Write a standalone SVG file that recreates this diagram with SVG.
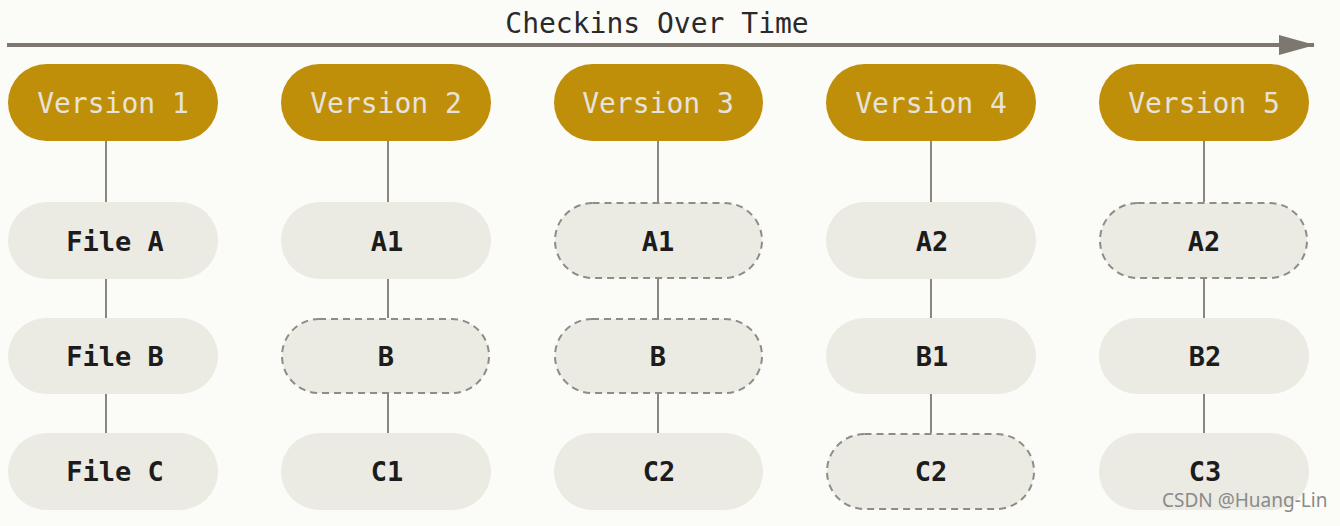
<svg xmlns="http://www.w3.org/2000/svg" width="1340" height="526" viewBox="0 0 1340 526">
<style>
.bg{fill:#fbfbf8}
.ver rect{fill:#c08f0a}
.ver text{fill:#e6e3da;font-family:"DejaVu Sans Mono",monospace;font-size:28px;text-anchor:middle;dominant-baseline:central}
.file rect{fill:#ebeae3}
.file.dash rect{stroke:#8f8c88;stroke-width:2;stroke-dasharray:7,5}
.file text{fill:#1c1c1c;font-family:"DejaVu Sans Mono",monospace;font-weight:bold;font-size:27px;text-anchor:middle;dominant-baseline:central}
.conn line{stroke:#8a8580;stroke-width:2}
.title{fill:#2a2a2a;font-family:"DejaVu Sans Mono",monospace;font-size:28px;text-anchor:middle}
.wm{fill:#8a8a8a;font-family:"Noto Sans",sans-serif;font-size:19px}
</style>
<defs>
<marker id="ah" markerWidth="36" markerHeight="20" refX="35" refY="10" orient="auto" markerUnits="userSpaceOnUse">
<path d="M0,0 L36,10 L0,20 Z" fill="#7d7770"/>
</marker>
</defs>
<rect class="bg" x="0" y="0" width="1340" height="526"/>
<text class="title" x="657" y="33">Checkins Over Time</text>
<g id="timeline" class="conn">
<line x1="7" y1="45" x2="1314" y2="45" style="stroke:#7d7770;stroke-width:4" marker-end="url(#ah)"/>
</g>
<g id="connectors" class="conn">
<line x1="106" y1="141" x2="106" y2="202"/><line x1="106" y1="279" x2="106" y2="318"/><line x1="106" y1="394" x2="106" y2="433"/>
<line x1="388" y1="141" x2="388" y2="202"/><line x1="388" y1="279" x2="388" y2="318"/><line x1="388" y1="394" x2="388" y2="433"/>
<line x1="658" y1="141" x2="658" y2="202"/><line x1="658" y1="279" x2="658" y2="318"/><line x1="658" y1="394" x2="658" y2="433"/>
<line x1="931" y1="141" x2="931" y2="202"/><line x1="931" y1="279" x2="931" y2="318"/><line x1="931" y1="394" x2="931" y2="433"/>
<line x1="1204" y1="141" x2="1204" y2="202"/><line x1="1204" y1="279" x2="1204" y2="318"/><line x1="1204" y1="394" x2="1204" y2="433"/>
</g>
<g id="v1" class="ver"><rect x="8" y="64" width="210" height="77" rx="38.5"/><text x="113" y="103">Version 1</text></g>
<g id="v2" class="ver"><rect x="281" y="64" width="210" height="77" rx="38.5"/><text x="386" y="103">Version 2</text></g>
<g id="v3" class="ver"><rect x="554" y="64" width="209" height="77" rx="38.5"/><text x="658" y="103">Version 3</text></g>
<g id="v4" class="ver"><rect x="826" y="64" width="210" height="77" rx="38.5"/><text x="931" y="103">Version 4</text></g>
<g id="v5" class="ver"><rect x="1099" y="64" width="210" height="77" rx="38.5"/><text x="1204" y="103">Version 5</text></g>

<g id="v1a" class="file"><rect x="8" y="202" width="210" height="77" rx="38.5"/><text x="115" y="241">File A</text></g>
<g id="v1b" class="file"><rect x="8" y="318" width="210" height="76" rx="38"/><text x="115" y="356">File B</text></g>
<g id="v1c" class="file"><rect x="8" y="433" width="210" height="77" rx="38.5"/><text x="115" y="471">File C</text></g>

<g id="v2a" class="file"><rect x="281" y="202" width="210" height="77" rx="38.5"/><text x="387" y="241">A1</text></g>
<g id="v2b" class="file dash"><rect x="282" y="319" width="207" height="74" rx="37"/><text x="386" y="356">B</text></g>
<g id="v2c" class="file"><rect x="281" y="433" width="210" height="77" rx="38.5"/><text x="387" y="471">C1</text></g>

<g id="v3a" class="file dash"><rect x="555" y="203" width="207" height="75" rx="37.5"/><text x="658" y="241">A1</text></g>
<g id="v3b" class="file dash"><rect x="555" y="319" width="207" height="74" rx="37"/><text x="658" y="356">B</text></g>
<g id="v3c" class="file"><rect x="554" y="433" width="209" height="77" rx="38.5"/><text x="659" y="471">C2</text></g>

<g id="v4a" class="file"><rect x="826" y="202" width="210" height="77" rx="38.5"/><text x="932" y="241">A2</text></g>
<g id="v4b" class="file"><rect x="826" y="318" width="210" height="76" rx="38"/><text x="932" y="356">B1</text></g>
<g id="v4c" class="file dash"><rect x="827" y="434" width="207" height="75" rx="37.5"/><text x="931" y="471">C2</text></g>

<g id="v5a" class="file dash"><rect x="1100" y="203" width="207" height="75" rx="37.5"/><text x="1204" y="241">A2</text></g>
<g id="v5b" class="file"><rect x="1099" y="318" width="210" height="76" rx="38"/><text x="1205" y="356">B2</text></g>
<g id="v5c" class="file"><rect x="1099" y="433" width="210" height="77" rx="38.5"/><text x="1205" y="471">C3</text></g>

<text class="wm" x="1162" y="507">CSDN @Huang-Lin</text>
</svg>
